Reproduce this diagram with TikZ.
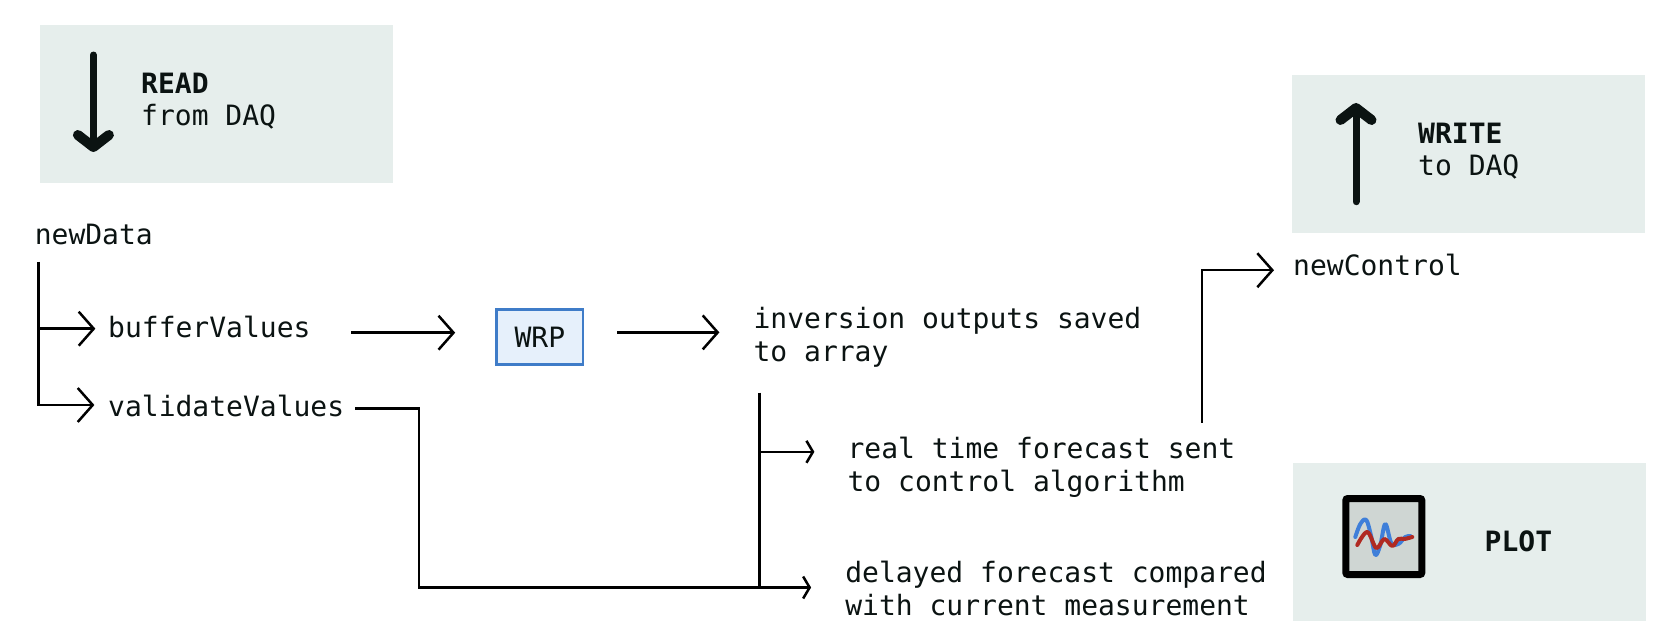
\documentclass[tikz,border=0pt]{standalone}
\usepackage{xcolor}
\usepackage{fontspec}
\setmonofont{DejaVu Sans Mono}
\usetikzlibrary{arrows.meta,positioning}
\definecolor{panelgrey}{HTML}{E6EEEC}
\definecolor{inkblack}{HTML}{0B1312}
\definecolor{wrpfill}{HTML}{E6F0FB}
\definecolor{wrpedge}{HTML}{3F7CC8}
\definecolor{iconfill}{HTML}{CFD6D3}
\definecolor{traceblue}{HTML}{3F7FD9}
\definecolor{tracered}{HTML}{B02A22}

\begin{document}
\begin{tikzpicture}[
    x=1pt, y=1pt,
    panel/.style={fill=panelgrey, inner sep=0pt, minimum width=353pt, minimum height=158pt},
    codetext/.style={font=\ttfamily\fontsize{28}{32.5}\selectfont, text=inkblack, inner sep=0pt,
      text height=21pt, text depth=6pt},
    twolines/.style={font=\ttfamily\fontsize{28}{32.5}\selectfont, text=inkblack, inner sep=0pt,
      align=left},
    wrpbox/.style={draw=wrpedge, fill=wrpfill, line width=2.8pt, minimum width=86.2pt,
      minimum height=55.2pt, inner sep=0pt, font=\ttfamily\fontsize{28}{32.5}\selectfont, text=inkblack},
    plotframe/.style={draw=black, fill=iconfill, line width=7pt, rounded corners=2pt,
      minimum width=76pt, minimum height=76pt, inner sep=0pt},
    wire/.style={line width=2.5pt, black},
    arrow/.style={wire, -{Straight Barb[length=15pt, width=34pt]}},
    smallarrow/.style={wire, -{Straight Barb[length=6.5pt, width=22pt]}},
    bigarrow/.style={line width=7pt, inkblack, line cap=round,
      -{Straight Barb[length=12pt, width=31pt, round, line width=10pt]}}
  ]
    \useasboundingbox (0,0) rectangle (1668,-640);

    % panels
    \node[panel, anchor=north west] (readbox) at (40,-25) {};
    \node[panel, anchor=north west] (writebox) at (1291.5,-75) {};
    \node[panel, anchor=north west] (plotbox) at (1293,-463) {};

    \node[twolines, below right=47.7pt and 101pt of readbox.north west] (readlabel) {\textbf{READ}\\from DAQ};
    \node[twolines, below right=47.5pt and 126.5pt of writebox.north west] (writelabel) {\textbf{WRITE}\\to DAQ};
    \node[codetext, below right=67.7pt and 191.5pt of plotbox.north west] (plotlabel) {\textbf{PLOT}};
    \node[plotframe, below right=32pt and 49.3pt of plotbox.north west] (ploticon) {};

    \coordinate[below right=30pt and 53.4pt of readbox.north west] (readstart);
    \coordinate[below=97pt of readstart] (readtip);
    \coordinate[below right=126.7pt and 64.5pt of writebox.north west] (writestart);
    \coordinate[above=98.7pt of writestart] (writetip);
    \draw[bigarrow] (readstart) -- (readtip);
    \draw[bigarrow] (writestart) -- (writetip);

    % flow
    \node[codetext, below right=40pt and -5.4pt of readbox.south west] (newdata) {newData};
    \node[codetext, below right=65.7pt and 73.4pt of newdata.south west] (buffervalues) {bufferValues};
    \node[codetext, below right=144pt and 73.4pt of newdata.south west] (validatevalues) {validateValues};
    \node[wrpbox, below right=-8.7pt and 184.7pt of buffervalues.north east] (wrp) {WRP};
    \node[twolines, below right=-0.7pt and 169pt of wrp.north east] (inversion) {inversion outputs saved\\to array};
    \node[twolines, below right=129.8pt and 94pt of inversion.north west] (realtime) {real time forecast sent\\to control algorithm};
    \node[twolines, below right=124.2pt and -2.3pt of realtime.north west] (delayed) {delayed forecast compared\\with current measurement};
    \node[codetext, below right=21.3pt and 1.5pt of writebox.south west] (newcontrol) {newControl};

    \coordinate[below right=11pt and 3.7pt of newdata.south west] (datatop);
    \coordinate[below right=85.5pt and 6pt of inversion.north west] (inversiontop);
    \coordinate[below right=14.9pt and -33pt of realtime.north west] (realin);
    \coordinate[below right=26.4pt and -34pt of delayed.north west] (delayedin);
    \coordinate[left=392.3pt of delayedin] (validatebend);
    \coordinate[above right=14pt and 354.8pt of realtime.north west] (controlstart);

    \draw[arrow, shorten >=12.6pt] (datatop) |- ([yshift=1.5pt]buffervalues.west);
    \draw[arrow, shorten >=13.6pt] (datatop) |- ([yshift=3.5pt]validatevalues.west);
    \draw[arrow, shorten <=40.7pt, shorten >=40.2pt] ([yshift=-2.5pt]buffervalues.east) -- ([yshift=-2.5pt]buffervalues.east -| wrp.west);
    \draw[arrow, shorten <=33pt, shorten >=34pt] ([yshift=4.4pt]wrp.east) -- ([yshift=4.4pt]wrp.east -| inversion.west);
    \draw[smallarrow, shorten <=10.7pt] (validatevalues.east) -| (validatebend) -- (delayedin);
    \draw[wire] (inversiontop) -- (inversiontop |- delayedin);
    \draw[smallarrow] (inversiontop |- realin) -- (realin);
    \draw[arrow, shorten >=19pt] (controlstart) |- ([yshift=-1.8pt]newcontrol.west);

    % traces in the plot icon
    \begin{scope}[shift={(ploticon.north west)}]
      \draw[traceblue, line width=4pt, line cap=round, line join=round] plot[smooth, tension=0.6] coordinates
        {(13,-42) (18,-29) (24,-25) (29,-42) (33,-60) (38,-50) (43,-29) (49,-48) (56,-49) (63,-42) (68,-41)};
      \draw[tracered, line width=4pt, line cap=round, line join=round] plot[smooth, tension=0.6] coordinates
        {(15,-50) (25,-37) (34,-53) (42,-44) (50,-51) (56,-44) (62,-44) (70,-42)};
    \end{scope}
  \end{tikzpicture}
\end{document}
